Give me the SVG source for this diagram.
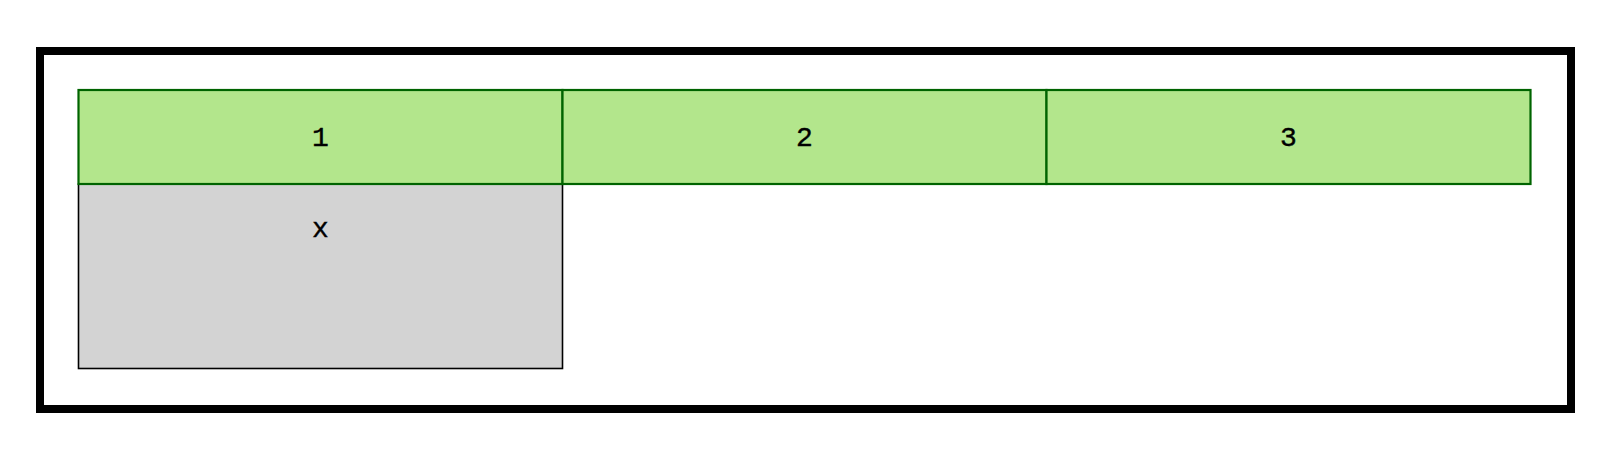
<svg xmlns="http://www.w3.org/2000/svg" width="1600" height="450" viewBox="0 0 1600 450">
<style>
.hdr{fill:#b3e68c;stroke:#006400;stroke-width:2.2}
.cell{fill:#d3d3d3;stroke:#000;stroke-width:1.6}
.lbl{font-family:"Liberation Mono",monospace;font-size:28px;font-weight:500;fill:#000;text-anchor:middle;stroke:#000;stroke-width:0.4}
</style>
<rect width="1600" height="450" fill="#fff"/>
<g id="container">
<rect x="40" y="51" width="1531" height="358" fill="none" stroke="#000" stroke-width="8"/>
</g>
<g id="cell-x">
<rect class="cell" x="78.5" y="184" width="484" height="184.5"/>
<text class="lbl" x="320.5" y="237">x</text>
</g>
<g id="cell-1">
<rect class="hdr" x="78.5" y="90" width="484" height="94"/>
<text class="lbl" x="320.5" y="146">1</text>
</g>
<g id="cell-2">
<rect class="hdr" x="562.5" y="90" width="484" height="94"/>
<text class="lbl" x="804.5" y="146">2</text>
</g>
<g id="cell-3">
<rect class="hdr" x="1046.5" y="90" width="484" height="94"/>
<text class="lbl" x="1288.5" y="146">3</text>
</g>
<g id="connectors"></g>
</svg>
